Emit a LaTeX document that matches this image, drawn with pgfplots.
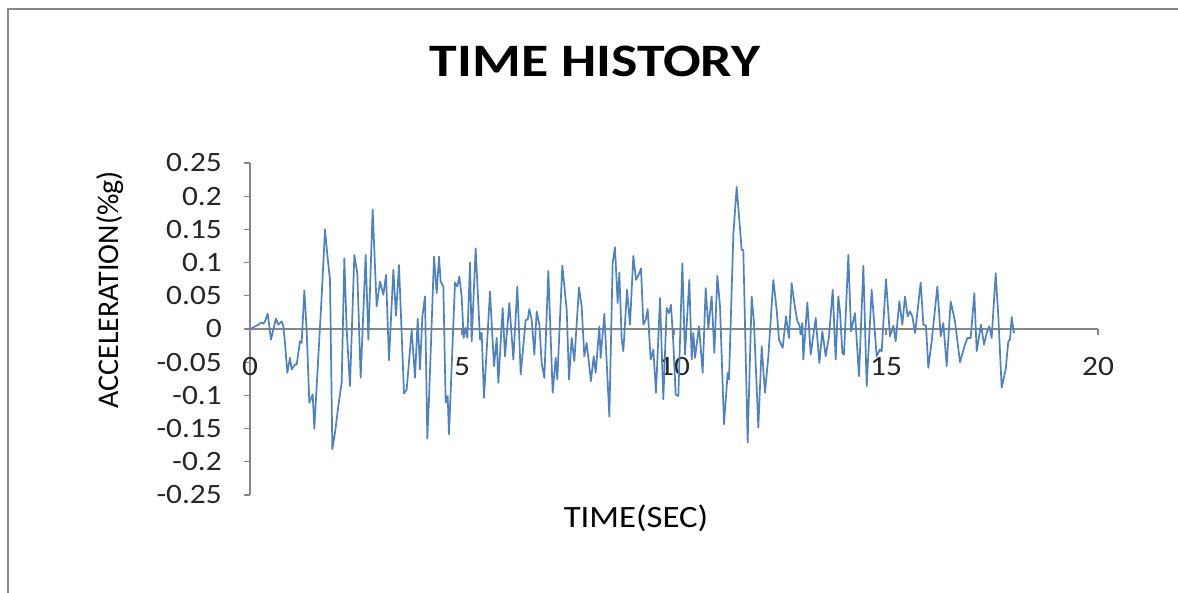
\documentclass[border=0pt]{standalone}
\usepackage{pgfplots}
\pgfplotsset{compat=1.18}
\usepackage{fontspec}
\setmainfont{Carlito}[FakeStretch=1.12]
\newfontfamily\titlefont{Carlito Bold}[FakeStretch=1.2]
\newfontfamily\ylabfont{Carlito}
\definecolor{axisgray}{HTML}{868686}
\definecolor{framegray}{HTML}{888888}
\definecolor{xlblue}{HTML}{4F81BD}
\begin{document}
\begin{tikzpicture}
\useasboundingbox (0pt,0pt) rectangle (1178pt,593pt);
\draw[framegray, line width=2pt] (8pt,0pt) -- (8pt,584pt) -- (1178pt,584pt);
\begin{axis}[
  at={(250pt,98pt)}, anchor=south west,
  scale only axis, width=848pt, height=332pt,
  xmin=0, xmax=20, ymin=-0.25, ymax=0.25,
  axis x line=middle, axis y line=left,
  axis line style={draw=axisgray, line width=1.2pt, -},
  hide obscured x ticks=false, hide obscured y ticks=false,
  xtick={0,5,10,15,20}, xticklabels={0,5,10,15,20},
  ytick={-0.25,-0.2,-0.15,-0.1,-0.05,0,0.05,0.1,0.15,0.2,0.25},
  yticklabels={-0.25,-0.2,-0.15,-0.1,-0.05,0,0.05,0.1,0.15,0.2,0.25},
  minor tick num=0,
  tick align=outside, major tick length=6pt,
  tick style={draw=axisgray, line width=1.2pt},
  ticklabel style={font=\fontsize{28}{28}\selectfont, text=black!85},
  yticklabel style={anchor=east, inner sep=0pt, xshift=-22pt},
  xticklabel style={anchor=north, inner sep=0pt, yshift=-22pt},
  clip=false,
]
\addplot[xlblue, line width=1.7pt, line join=round] coordinates {
(0.02,0.000) (0.055,0.0015) (0.118,0.004) (0.197,0.0065) (0.275,0.010) (0.314,0.008)
(0.354,0.0115) (0.417,0.023) (0.495,-0.016) (0.550,-0.001) (0.613,0.0155) (0.668,0.0065)
(0.747,0.0115) (0.786,0.004) (0.825,-0.021) (0.881,-0.066) (0.943,-0.0435) (0.983,-0.061)
(1.061,-0.0535) (1.101,-0.0535) (1.179,-0.0185) (1.219,-0.021) (1.281,0.058) (1.336,-0.001)
(1.399,-0.111) (1.478,-0.0985) (1.517,-0.150) (1.612,-0.041) (1.690,0.049) (1.769,0.150)
(1.832,0.1065) (1.887,0.074) (1.942,-0.181) (2.005,-0.156) (2.083,-0.116) (2.162,-0.081)
(2.225,0.1065) (2.280,-0.001) (2.358,-0.086) (2.461,0.1115) (2.531,0.084) (2.610,-0.0735)
(2.728,0.1115) (2.791,-0.016) (2.893,0.180) (2.987,0.034) (3.066,0.0715) (3.145,0.0515)
(3.208,0.0815) (3.278,-0.047) (3.381,0.089) (3.443,0.020) (3.514,0.0965) (3.632,-0.097)
(3.695,-0.091) (3.813,-0.001) (3.892,-0.0735) (3.955,0.0155) (4.009,-0.061) (4.065,0.019)
(4.127,0.049) (4.182,-0.165) (4.222,-0.106) (4.340,0.109) (4.403,0.054) (4.458,0.109)
(4.497,0.0715) (4.560,0.064) (4.615,-0.111) (4.662,-0.101) (4.693,-0.1585) (4.835,0.070)
(4.890,0.064) (4.937,0.079) (4.992,0.049) (5.039,-0.0135) (5.086,0.0015) (5.126,-0.0135)
(5.189,0.100) (5.228,-0.0185) (5.322,0.1215) (5.425,-0.016) (5.464,-0.006) (5.519,-0.1035)
(5.660,0.0565) (5.755,-0.056) (5.818,-0.0135) (5.857,-0.081) (5.959,0.0315) (6.014,-0.041)
(6.116,0.039) (6.211,-0.046) (6.305,0.064) (6.384,-0.0685) (6.502,0.014) (6.549,0.014)
(6.588,0.030) (6.643,0.014) (6.706,-0.0385) (6.761,0.0265) (6.824,0.0065) (6.879,-0.051)
(6.942,-0.0735) (7.036,0.0875) (7.138,-0.096) (7.209,-0.0435) (7.248,-0.076) (7.366,0.0955)
(7.469,0.029) (7.524,-0.076) (7.587,-0.0135) (7.649,-0.0485) (7.759,0.0625) (7.822,0.034)
(7.885,-0.041) (7.940,-0.021) (8.042,-0.0785) (8.105,-0.041) (8.153,-0.066) (8.239,0.004)
(8.270,-0.0435) (8.357,0.023) (8.475,-0.132) (8.553,0.099) (8.608,0.123) (8.671,0.039)
(8.711,0.085) (8.766,-0.016) (8.805,-0.0335) (8.892,0.059) (8.962,0.0065) (9.041,0.110)
(9.104,0.074) (9.182,0.084) (9.222,0.0915) (9.277,0.0065) (9.332,0.014) (9.379,0.030)
(9.450,-0.046) (9.513,-0.031) (9.575,-0.096) (9.670,0.0465) (9.748,-0.106) (9.827,0.0315)
(9.882,0.024) (9.929,0.0365) (9.984,-0.021) (10.039,-0.0985) (10.102,-0.101) (10.197,0.099)
(10.259,-0.0385) (10.361,0.074) (10.417,-0.046) (10.456,-0.006) (10.495,-0.0435) (10.590,0.004)
(10.676,-0.066) (10.747,0.0615) (10.810,0.0015) (10.888,0.049) (10.951,-0.036) (11.022,0.080)
(11.085,0.034) (11.179,-0.1435) (11.266,-0.066) (11.297,-0.076) (11.399,0.1415) (11.478,0.214)
(11.541,0.164) (11.596,0.119) (11.635,0.119) (11.737,-0.171) (11.832,0.049) (11.887,0.009)
(11.989,-0.1485) (12.068,-0.026) (12.146,-0.096) (12.225,-0.041) (12.343,0.074) (12.421,0.029)
(12.476,-0.016) (12.563,-0.0285) (12.642,0.019) (12.712,-0.0135) (12.775,0.069) (12.838,0.039)
(12.909,0.0115) (12.956,0.0065) (12.987,-0.0085) (13.027,0.009) (13.050,-0.046) (13.145,0.040)
(13.224,-0.0385) (13.342,0.0165) (13.428,-0.051) (13.499,-0.0035) (13.577,-0.041) (13.656,-0.011)
(13.743,0.059) (13.813,-0.046) (13.876,0.049) (13.915,0.0265) (13.970,-0.036) (14.009,-0.0385)
(14.112,0.1115) (14.175,-0.0035) (14.269,0.024) (14.363,-0.071) (14.466,0.095) (14.544,-0.086)
(14.662,0.059) (14.780,-0.041) (14.858,-0.031) (14.898,-0.0335) (15.000,0.075) (15.094,-0.011)
(15.173,0.005) (15.228,-0.0185) (15.314,0.0415) (15.385,0.0065) (15.448,0.049) (15.511,0.019)
(15.566,0.0265) (15.621,0.019) (15.684,-0.006) (15.747,0.029) (15.818,0.070) (15.881,0.0065)
(15.943,0.005) (15.998,-0.0585) (16.077,-0.0185) (16.211,0.064) (16.290,-0.011) (16.352,0.009)
(16.431,-0.056) (16.525,0.0415) (16.627,0.0115) (16.745,-0.050) (16.863,-0.0235) (16.918,-0.0135)
(16.997,-0.0135) (17.083,0.054) (17.138,-0.0335) (17.241,0.0065) (17.311,-0.0235) (17.374,-0.006)
(17.437,0.004) (17.492,-0.0135) (17.587,0.084) (17.649,0.019) (17.728,-0.0885) (17.822,-0.061)
(17.885,-0.0185) (17.925,-0.016) (17.964,0.018) (18.019,-0.006)
};
\end{axis}
\node[anchor=base, inner sep=0pt, font=\titlefont\fontsize{46.5}{50}\selectfont] at (595pt,516pt) {TIME HISTORY};
\node[anchor=base, inner sep=0pt, font=\fontsize{31}{34}\selectfont] at (636pt,65pt) {TIME(SEC)};
\node[anchor=base, inner sep=0pt, rotate=90, font=\ylabfont\fontsize{30}{33}\selectfont] at (118pt,303pt) {ACCELERATION(\%g)};
\end{tikzpicture}
\end{document}
